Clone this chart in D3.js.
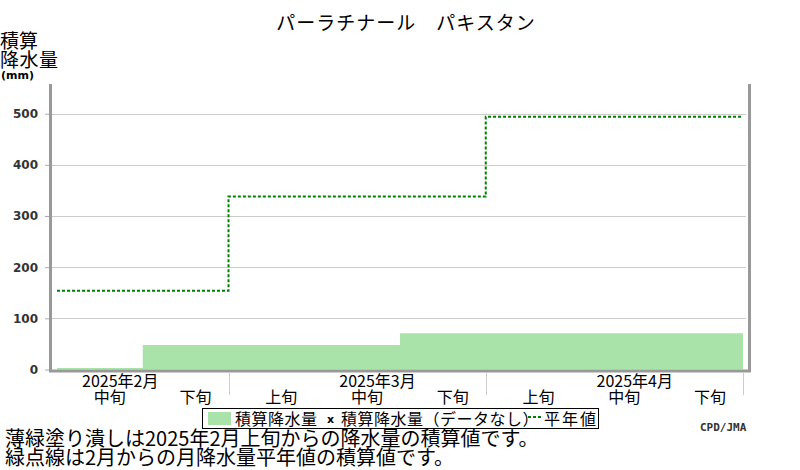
<!DOCTYPE html>
<html>
<head>
<meta charset="utf-8">
<script src="https://cdn.jsdelivr.net/npm/d3@7"></script>
<style>
  body { margin: 0; background: #fff; }
  svg { display: block; }
  text { font-family: "Noto Sans CJK JP", "Noto Sans", sans-serif; fill: #000; }
</style>
</head>
<body>
<div id="chart"></div>
<script>
// data
var dekads = ["2月中旬", "2月下旬", "3月上旬", "3月中旬", "3月下旬", "4月上旬", "4月中旬", "4月下旬"];
var dekadLabels = ["中旬", "下旬", "上旬", "中旬", "下旬", "上旬", "中旬", "下旬"];
var accumPrecip = [3, 48, 48, 48, 71, 71, 71, 71];
var months = ["2025年2月", "2025年3月", "2025年4月"];
var monthStart = [0, 2, 5];          // dekad index where each month starts
var monthEnd = [2, 5, 8];
var monthLabelAt = [0, 3, 6];        // label sits over the 中旬 column
var normalAccum = [154, 338, 494];
var yTicks = [0, 100, 200, 300, 400, 500];

var W = 800, H = 470;

var svg = d3.select("#chart")
  .append("svg")
  .attr("width", W)
  .attr("height", H);

// scales
var x = d3.scaleLinear()
  .domain([0, dekads.length])
  .range([57, 743]);

var y = d3.scaleLinear()
  .domain([0, 558])
  .range([369.5, 84]);

// gridlines
svg.append("g")
  .selectAll("line")
  .data(yTicks.filter(function(d) { return d > 0; }))
  .enter()
  .append("line")
  .attr("x1", 51)
  .attr("x2", 746)
  .attr("y1", function(d) { return Math.round(y(d)) + 0.5; })
  .attr("y2", function(d) { return Math.round(y(d)) + 0.5; })
  .attr("stroke", "#cccccc")
  .attr("stroke-width", 1);

// accumulated precipitation, filled step area
var area = d3.area()
  .x(function(d) { return x(d.i); })
  .y0(y(0))
  .y1(function(d) { return y(d.v); })
  .curve(d3.curveStepAfter);

var areaPts = accumPrecip.map(function(v, i) { return { i: i, v: v }; });
areaPts.push({ i: accumPrecip.length, v: accumPrecip[accumPrecip.length - 1] });

svg.append("path")
  .datum(areaPts)
  .attr("d", area)
  .attr("fill", "#aae3aa");

// normal accumulated (dotted step line)
var normPts = [];
normalAccum.forEach(function(v, k) {
  normPts.push([x(monthStart[k]), y(v)]);
  normPts.push([x(monthEnd[k]), y(v)]);
});

svg.append("path")
  .datum(normPts)
  .attr("d", d3.line())
  .attr("fill", "none")
  .attr("stroke", "#008000")
  .attr("stroke-width", 2)
  .attr("stroke-dasharray", "3,2");

// y axis
var yAxis = svg.append("g")
  .attr("transform", "translate(50,0)")
  .call(d3.axisLeft(y).tickValues(yTicks).tickSize(5).tickPadding(7));
yAxis.select(".domain").remove();
yAxis.selectAll("line").attr("stroke", "#aaaaaa");
yAxis.selectAll("text")
  .style("font-family", "DejaVu Sans, sans-serif")
  .style("font-weight", "bold")
  .style("font-size", "12px")
  .style("fill", "#333");

// frame: left, bottom, right
var frame = svg.append("g")
  .attr("stroke", "#999999")
  .attr("stroke-width", 3)
  .attr("fill", "none");
frame.append("path")
  .attr("d", "M50.5," + y(558) + "V" + (y(0) + 1.5) + "H749.5V" + y(558));

// month boundary ticks on the x axis
svg.append("g")
  .selectAll("line")
  .data(monthEnd)
  .enter()
  .append("line")
  .attr("x1", function(d) { return Math.round(x(d)) + 0.5; })
  .attr("x2", function(d) { return Math.round(x(d)) + 0.5; })
  .attr("y1", 373)
  .attr("y2", 395)
  .attr("stroke", "#cccccc");

// month labels
svg.append("g")
  .selectAll("text")
  .data(months)
  .enter()
  .append("text")
  .attr("x", function(d, k) { return x(monthLabelAt[k]) + 25; })
  .attr("y", 387)
  .style("font-size", "16px")
  .text(function(d) { return d; });

// dekad labels
svg.append("g")
  .selectAll("text")
  .data(dekadLabels)
  .enter()
  .append("text")
  .attr("x", function(d, i) { return x(i + 0.5) + 10; })
  .attr("y", 403)
  .attr("text-anchor", "middle")
  .style("font-size", "16px")
  .text(function(d) { return d; });

// title
svg.append("text")
  .attr("x", 406)
  .attr("y", 30)
  .attr("text-anchor", "middle")
  .style("font-size", "19px")
  .style("letter-spacing", "1px")
  .text("パーラチナール　パキスタン");

// y axis title
svg.append("text").attr("x", 0).attr("y", 48).style("font-size", "19px").text("積算");
svg.append("text").attr("x", 0).attr("y", 67).style("font-size", "19px").style("letter-spacing", "0.5px").text("降水量");
svg.append("text")
  .attr("x", 1).attr("y", 79)
  .style("font-family", "DejaVu Sans, sans-serif")
  .style("font-weight", "bold")
  .style("font-size", "11px")
  .text("(mm)");

// legend
var legend = svg.append("g");
legend.append("rect")
  .attr("x", 202.5).attr("y", 408.5)
  .attr("width", 396).attr("height", 20)
  .attr("fill", "#fff")
  .attr("stroke", "#000");
legend.append("rect")
  .attr("x", 208).attr("y", 412)
  .attr("width", 23).attr("height", 13)
  .attr("fill", "#aae3aa");
legend.append("text")
  .attr("x", 235).attr("y", 425)
  .style("font-size", "16px").style("letter-spacing", "0.5px")
  .text("積算降水量");
legend.append("text")
  .attr("x", 327).attr("y", 423)
  .style("font-family", "DejaVu Sans, sans-serif")
  .style("font-weight", "bold")
  .style("font-size", "11px")
  .text("x");
legend.append("text")
  .attr("x", 341).attr("y", 425)
  .style("font-size", "16px").style("letter-spacing", "0.5px")
  .text("積算降水量（データなし）");
legend.append("line")
  .attr("x1", 528).attr("x2", 542)
  .attr("y1", 417).attr("y2", 417)
  .attr("stroke", "#008000")
  .attr("stroke-width", 2)
  .attr("stroke-dasharray", "3,2");
legend.append("text")
  .attr("x", 544).attr("y", 425)
  .style("font-size", "16px").style("letter-spacing", "2px")
  .text("平年値");

// source
svg.append("text")
  .attr("x", 700).attr("y", 431)
  .style("font-family", "DejaVu Sans Mono, monospace")
  .style("font-weight", "bold")
  .style("font-size", "11px")
  .style("fill", "#333")
  .text("CPD/JMA");

// notes
svg.append("text").attr("x", 5).attr("y", 446).style("font-size", "20px")
  .text("薄緑塗り潰しは2025年2月上旬からの降水量の積算値です。");
svg.append("text").attr("x", 5).attr("y", 465).style("font-size", "20px")
  .text("緑点線は2月からの月降水量平年値の積算値です。");
</script>
</body>
</html>
